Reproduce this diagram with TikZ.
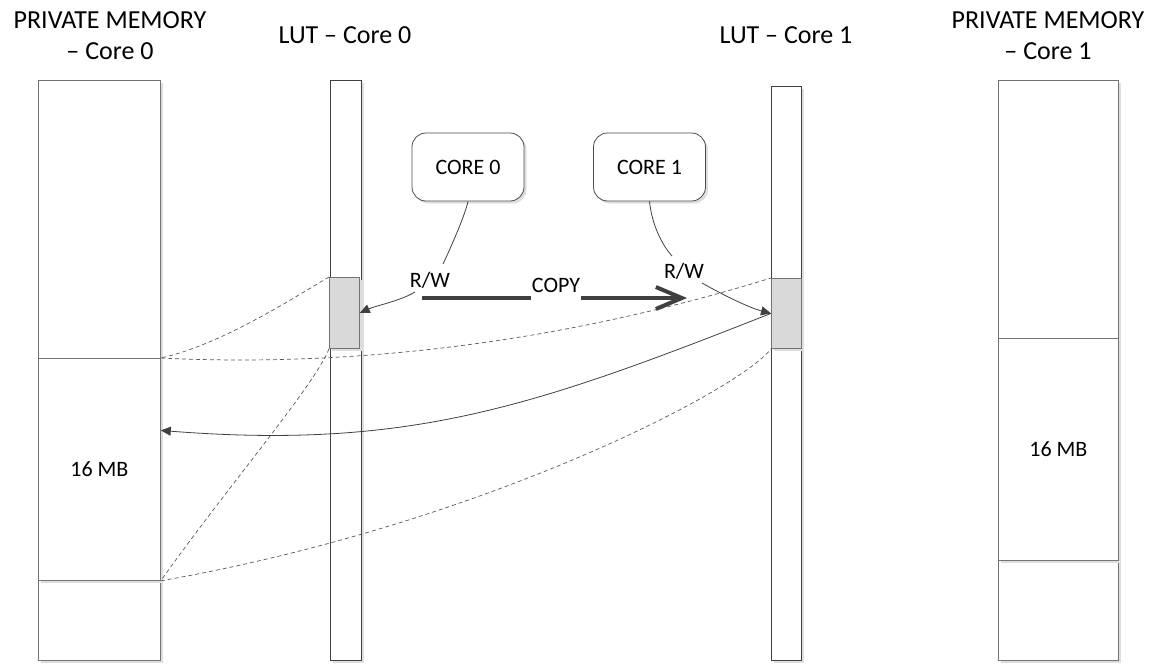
\documentclass[tikz,border=0pt]{standalone}
\usepackage{fontspec}
\setmainfont{Carlito}
\usetikzlibrary{arrows.meta,shadows,calc}

\begin{document}
\begin{tikzpicture}[x=1pt,y=-1pt,
  shade/.style={drop shadow={shadow xshift=2.5pt, shadow yshift=-2.5pt, fill=black!13, opacity=1}},
  box/.style={shade, draw=black!55, fill=white, line width=0.8pt, inner sep=0pt,
    anchor=north west, font=\fontsize{22}{26}\selectfont},
  lut/.style={shade, draw=black!75, fill=white, line width=0.8pt, inner sep=0pt, anchor=north west},
  blk/.style={shade, draw=black!55, fill=black!15, line width=0.8pt, inner sep=0pt, anchor=north west},
  core/.style={shade, draw=black!70, fill=white, line width=0.8pt, rounded corners=14pt,
    minimum width=112pt, minimum height=68pt, font=\fontsize{22}{26}\selectfont},
  title/.style={align=center, inner sep=0pt, font=\fontsize{26}{31}\selectfont},
  lbl/.style={inner sep=0pt, font=\fontsize{22}{26}\selectfont},
  link/.style={draw=black!75, line width=0.8pt},
  tip/.style={-{Triangle[length=10pt,width=9pt]}},
  map/.style={draw=black!65, line width=0.7pt, dash pattern=on 4pt off 3pt},
  copyline/.style={draw=black!75, line width=4pt}
]
\useasboundingbox (0,0) rectangle (1157,664);

% titles
\node[title] (t0) at (110,36) {PRIVATE MEMORY\\– Core 0};
\node[title] (t1) at (1048,36) {PRIVATE MEMORY\\– Core 1};
\node[title, anchor=base] (tl0) at (345,43) {LUT – Core 0};
\node[title, anchor=base] (tl1) at (786,43) {LUT – Core 1};

% private memory of core 0
\node[box, minimum width=122pt, minimum height=278pt] (m0a) at (38,80) {};
\node[box, minimum width=122pt, minimum height=80pt] (m0c) at (38,580) {};
\node[box, minimum width=122pt, minimum height=222pt] (m0b) at (38,358) {16 MB};

% private memory of core 1
\node[box, minimum width=120pt, minimum height=258pt] (m1a) at (998,80) {};
\node[box, minimum width=120pt, minimum height=100pt] (m1c) at (998,560) {};
\node[box, minimum width=120pt, minimum height=222pt] (m1b) at (998,338) {16 MB};

% lookup tables and their active entries
\node[lut, minimum width=31pt, minimum height=580pt] (l0) at (330,80) {};
\node[lut, minimum width=30pt, minimum height=574pt] (l1) at (771,86) {};
\node[blk, minimum width=30pt, minimum height=71pt] (b0) at (329,277) {};
\node[blk, minimum width=30pt, minimum height=70pt] (b1) at (771,278) {};

% cores
\node[core] (c0) at (468,167) {CORE 0};
\node[core] (c1) at (649.5,167) {CORE 1};

% labels
\node[lbl, anchor=base] (rw0) at (430,287) {R/W};
\node[lbl, anchor=base] (rw1) at (684,278) {R/W};
\node[lbl, anchor=base, inner xsep=1pt] (cp) at (556,292) {COPY};

\coordinate (rw0in) at (443,264);
\coordinate (rw0out) at (415,292);
\coordinate (rw1in) at (672,256);
\coordinate (rw1out) at (702,283);
\coordinate (cpA) at (422,298);
\coordinate (cpB) at (687,298);

% mapping of the LUT entries onto the 16 MB regions
\draw[map] (b0.north west) .. controls (290,300) and (220,345) .. (m0b.north east);
\draw[map] (m0b.north east) .. controls (361,368) and (571,340) .. (b1.north west);
\draw[map] (b0.south west) .. controls (315,385) and (225,490) .. (m0b.south east);
\draw[map] (m0b.south east) .. controls (480,525) and (740,390) .. (b1.south west);

% read / write accesses
\draw[link] (c0.south) .. controls (465,215) and (452,245) .. (rw0in);
\draw[link, tip] (rw0out) .. controls (400,301) and (375,306) .. (b0.east);
\draw[link] (c1.south) .. controls (652,225) and (662,245) .. (rw1in);
\draw[link, tip] (rw1out) .. controls (725,296) and (750,308) .. (b1.west);
\draw[link, tip] (b1.west) .. controls (536,406) and (410,450)
  .. ($(m0b.north east)!0.325!(m0b.south east)$);

% copy between the tables
\draw[copyline] (cpA) -- (cpA -| cp.west);
\draw[copyline, -{Straight Barb[length=26pt,width=22pt]}] (cpB -| cp.east) -- (cpB);
\end{tikzpicture}
\end{document}
